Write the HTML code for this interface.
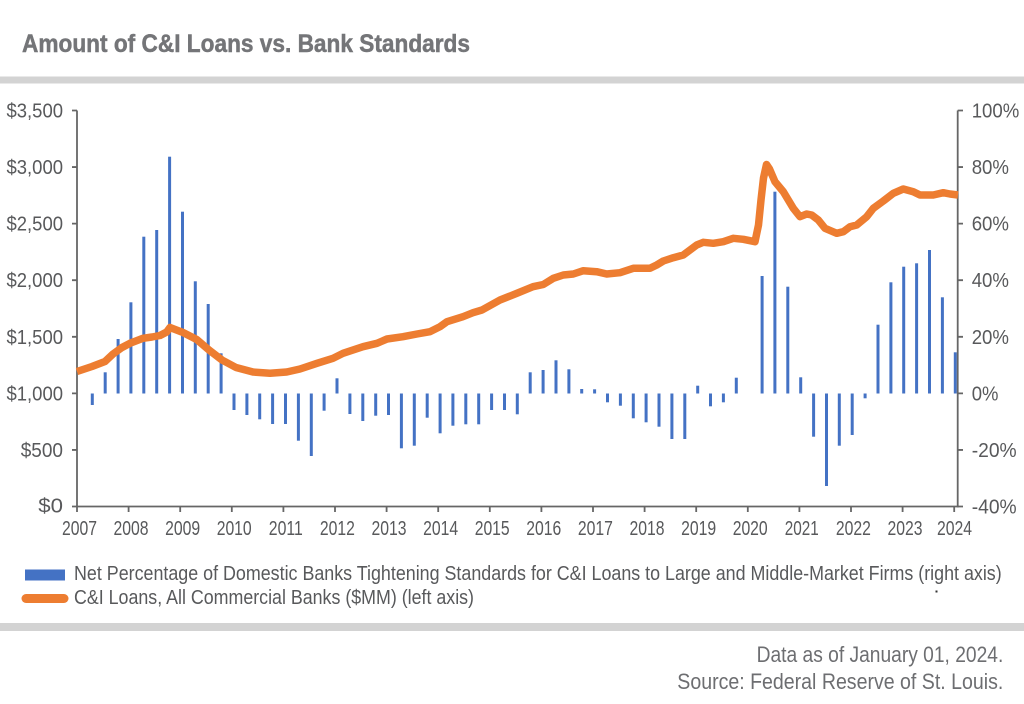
<!DOCTYPE html>
<html><head><meta charset="utf-8"><style>
html,body{margin:0;padding:0;background:#fff;}
svg{display:block;}
text{font-family:"Liberation Sans Narrow","Liberation Sans",sans-serif;}
</style></head><body>
<svg width="1024" height="704" viewBox="0 0 1024 704" xmlns="http://www.w3.org/2000/svg">
<rect x="0" y="0" width="1024" height="704" fill="#fff"/>
<text x="22" y="52" font-size="25" font-weight="bold" fill="#747578" stroke="#747578" stroke-width="0.5" textLength="448" lengthAdjust="spacingAndGlyphs">Amount of C&amp;I Loans vs. Bank Standards</text>
<rect x="0" y="76.5" width="1024" height="7" fill="#d3d3d3"/>
<rect x="0" y="623" width="1024" height="8" fill="#d3d3d3"/>

<!-- bars -->
<g fill="#4472c4">
<rect x="90.8" y="393.5" width="3" height="11.5"/>
<rect x="103.7" y="372.3" width="3" height="21.2"/>
<rect x="116.6" y="339" width="3" height="54.5"/>
<rect x="129.4" y="302.3" width="3" height="91.2"/>
<rect x="142.3" y="236.7" width="3" height="156.8"/>
<rect x="155.2" y="230" width="3" height="163.5"/>
<rect x="168.1" y="156.7" width="3" height="236.8"/>
<rect x="181" y="211.7" width="3" height="181.8"/>
<rect x="193.8" y="281.3" width="3" height="112.2"/>
<rect x="206.7" y="304" width="3" height="89.5"/>
<rect x="219.6" y="353.3" width="3" height="40.2"/>
<rect x="232.5" y="393.5" width="3" height="16.5"/>
<rect x="245.4" y="393.5" width="3" height="21.5"/>
<rect x="258.2" y="393.5" width="3" height="25.8"/>
<rect x="271.1" y="393.5" width="3" height="30.5"/>
<rect x="284" y="393.5" width="3" height="30.5"/>
<rect x="296.9" y="393.5" width="3" height="47.2"/>
<rect x="309.8" y="393.5" width="3" height="62.5"/>
<rect x="322.6" y="393.5" width="3" height="17.2"/>
<rect x="335.5" y="378.3" width="3" height="15.2"/>
<rect x="348.4" y="393.5" width="3" height="20.5"/>
<rect x="361.3" y="393.5" width="3" height="27.5"/>
<rect x="374.2" y="393.5" width="3" height="22.2"/>
<rect x="387" y="393.5" width="3" height="21.5"/>
<rect x="399.9" y="393.5" width="3" height="54.8"/>
<rect x="412.8" y="393.5" width="3" height="52.2"/>
<rect x="425.7" y="393.5" width="3" height="24.2"/>
<rect x="438.6" y="393.5" width="3" height="39.8"/>
<rect x="451.4" y="393.5" width="3" height="32.2"/>
<rect x="464.3" y="393.5" width="3" height="30.8"/>
<rect x="477.2" y="393.5" width="3" height="30.8"/>
<rect x="490.1" y="393.5" width="3" height="16.5"/>
<rect x="503" y="393.5" width="3" height="16.5"/>
<rect x="515.8" y="393.5" width="3" height="20.8"/>
<rect x="528.7" y="372.3" width="3" height="21.2"/>
<rect x="541.6" y="370" width="3" height="23.5"/>
<rect x="554.5" y="360.3" width="3" height="33.2"/>
<rect x="567.4" y="369.3" width="3" height="24.2"/>
<rect x="580.2" y="389" width="3" height="4.5"/>
<rect x="593.1" y="389.3" width="3" height="4.2"/>
<rect x="606" y="393.5" width="3" height="8.8"/>
<rect x="618.9" y="393.5" width="3" height="12.2"/>
<rect x="631.8" y="393.5" width="3" height="24.8"/>
<rect x="644.6" y="393.5" width="3" height="28.8"/>
<rect x="657.5" y="393.5" width="3" height="33.2"/>
<rect x="670.4" y="393.5" width="3" height="45.5"/>
<rect x="683.3" y="393.5" width="3" height="45.5"/>
<rect x="696.2" y="385.7" width="3" height="7.8"/>
<rect x="709" y="393.5" width="3" height="12.8"/>
<rect x="721.9" y="393.5" width="3" height="8.8"/>
<rect x="734.8" y="377.7" width="3" height="15.8"/>
<rect x="760.6" y="276" width="3" height="117.5"/>
<rect x="773.4" y="191.7" width="3" height="201.8"/>
<rect x="786.3" y="286.7" width="3" height="106.8"/>
<rect x="799.2" y="377.3" width="3" height="16.2"/>
<rect x="812.1" y="393.5" width="3" height="43.2"/>
<rect x="825" y="393.5" width="3" height="92.5"/>
<rect x="837.8" y="393.5" width="3" height="52.2"/>
<rect x="850.7" y="393.5" width="3" height="41.5"/>
<rect x="863.6" y="393.5" width="3" height="4.8"/>
<rect x="876.5" y="324.7" width="3" height="68.8"/>
<rect x="889.4" y="282.3" width="3" height="111.2"/>
<rect x="902.2" y="266.7" width="3" height="126.8"/>
<rect x="915.1" y="263.3" width="3" height="130.2"/>
<rect x="928" y="250" width="3" height="143.5"/>
<rect x="940.9" y="297.3" width="3" height="96.2"/>
<rect x="953.8" y="352.3" width="3" height="41.2"/>
</g>

<!-- axes -->
<g stroke="#666" stroke-width="1.8" fill="none">
<line x1="77" y1="110.5" x2="77" y2="507.4"/>
<line x1="957.7" y1="110.5" x2="957.7" y2="507.4"/>
<line x1="76.1" y1="506.5" x2="958.6" y2="506.5"/>
<path d="M72 110.5H77M72 167.07H77M72 223.64H77M72 280.21H77M72 336.79H77M72 393.36H77M72 449.93H77M72 506.5H77"/>
<path d="M957.7 110.5H963M957.7 167.07H963M957.7 223.64H963M957.7 280.21H963M957.7 336.79H963M957.7 393.36H963M957.7 449.93H963M957.7 506.5H963"/>
<path d="M77 506.5V512M128.6 506.5V512M180.2 506.5V512M231.8 506.5V512M283.4 506.5V512M335 506.5V512M386.6 506.5V512M438.2 506.5V512M489.8 506.5V512M541.4 506.5V512M593 506.5V512M644.6 506.5V512M696.2 506.5V512M747.8 506.5V512M799.4 506.5V512M851 506.5V512M902.6 506.5V512M954.2 506.5V512"/>
</g>

<!-- orange line -->
<polyline fill="none" stroke="#ed7d31" stroke-width="7.5" stroke-linejoin="round" stroke-linecap="butt" points="77,371.5 92,366.5 105,361.5 113,354 122,347.5 130,343.3 143,338.3 152,337 160,335.5 166.7,332 170,327.5 183,332.5 196.7,339.5 209,350 222,360 236,367.5 253,372 270,373.3 286.7,372 300,369 317,363.3 333,358.3 343,353.3 363,346.7 377,343.3 387,339 403,336.7 417,334 430,331.7 440,326.7 447,321.7 463,316.7 473,312.7 482,310 500,300 517,293.3 533,286.7 543.3,284.5 553.3,278.3 563.3,275 573.3,274 583.3,270.7 596.7,271.7 606.7,274 620,272.7 633.3,268.3 650,268.3 656.7,265 663.3,261 673.3,257.7 683.3,255 696.7,245 703.3,242.3 713.3,243.3 723.3,241.7 733.3,238.3 743.3,239.3 755,241.7 758.5,225 761,200 763.5,178 766.5,164.5 769.5,169 775,181.7 783.3,191.7 793.3,208.3 800,216.7 806.7,214 811.7,215 818.3,220 825,228.3 836.7,233.3 843.3,231.7 850,226.7 856.7,225 866.7,216.7 873.3,208.3 883.3,201 893.3,193.3 903.3,189 913.3,191.7 920,195 933.3,195 943.3,192.7 950,194 958,195"/>

<!-- left labels -->
<g font-size="20" fill="#58595b" text-anchor="end">
<text x="63" y="117.5" textLength="56.5" lengthAdjust="spacingAndGlyphs">$3,500</text>
<text x="63" y="174" textLength="56.5" lengthAdjust="spacingAndGlyphs">$3,000</text>
<text x="63" y="230.6" textLength="56.5" lengthAdjust="spacingAndGlyphs">$2,500</text>
<text x="63" y="287.2" textLength="56.5" lengthAdjust="spacingAndGlyphs">$2,000</text>
<text x="63" y="343.8" textLength="56.5" lengthAdjust="spacingAndGlyphs">$1,500</text>
<text x="63" y="400.3" textLength="56.5" lengthAdjust="spacingAndGlyphs">$1,000</text>
<text x="63" y="456.9" textLength="42.3" lengthAdjust="spacingAndGlyphs">$500</text>
<text x="63" y="512.5" textLength="24.7" lengthAdjust="spacingAndGlyphs">$0</text>
</g>
<!-- right labels -->
<g font-size="20" fill="#58595b">
<text x="971.7" y="117.5" textLength="47.6" lengthAdjust="spacingAndGlyphs">100%</text>
<text x="971.7" y="174" textLength="37.3" lengthAdjust="spacingAndGlyphs">80%</text>
<text x="971.7" y="230.6" textLength="37.3" lengthAdjust="spacingAndGlyphs">60%</text>
<text x="971.7" y="287.2" textLength="37.3" lengthAdjust="spacingAndGlyphs">40%</text>
<text x="971.7" y="343.8" textLength="37.3" lengthAdjust="spacingAndGlyphs">20%</text>
<text x="971.7" y="400.3" textLength="26.7" lengthAdjust="spacingAndGlyphs">0%</text>
<text x="971.7" y="456.9" textLength="45" lengthAdjust="spacingAndGlyphs">-20%</text>
<text x="971.7" y="513.5" textLength="45" lengthAdjust="spacingAndGlyphs">-40%</text>
</g>
<!-- x labels -->
<g font-size="20" fill="#58595b" text-anchor="middle">
<text x="79.5" y="535" textLength="35" lengthAdjust="spacingAndGlyphs">2007</text>
<text x="131" y="535" textLength="35" lengthAdjust="spacingAndGlyphs">2008</text>
<text x="182.6" y="535" textLength="35" lengthAdjust="spacingAndGlyphs">2009</text>
<text x="234.2" y="535" textLength="35" lengthAdjust="spacingAndGlyphs">2010</text>
<text x="285.8" y="535" textLength="34" lengthAdjust="spacingAndGlyphs">2011</text>
<text x="337.4" y="535" textLength="35" lengthAdjust="spacingAndGlyphs">2012</text>
<text x="389" y="535" textLength="35" lengthAdjust="spacingAndGlyphs">2013</text>
<text x="440.6" y="535" textLength="35" lengthAdjust="spacingAndGlyphs">2014</text>
<text x="492.2" y="535" textLength="35" lengthAdjust="spacingAndGlyphs">2015</text>
<text x="543.8" y="535" textLength="35" lengthAdjust="spacingAndGlyphs">2016</text>
<text x="595.4" y="535" textLength="35" lengthAdjust="spacingAndGlyphs">2017</text>
<text x="647" y="535" textLength="35" lengthAdjust="spacingAndGlyphs">2018</text>
<text x="698.6" y="535" textLength="35" lengthAdjust="spacingAndGlyphs">2019</text>
<text x="750.2" y="535" textLength="35" lengthAdjust="spacingAndGlyphs">2020</text>
<text x="801.8" y="535" textLength="34" lengthAdjust="spacingAndGlyphs">2021</text>
<text x="853.4" y="535" textLength="35" lengthAdjust="spacingAndGlyphs">2022</text>
<text x="905" y="535" textLength="35" lengthAdjust="spacingAndGlyphs">2023</text>
<text x="954.5" y="535" textLength="35" lengthAdjust="spacingAndGlyphs">2024</text>
</g>

<!-- legend -->
<rect x="25" y="569.5" width="40" height="11" fill="#4472c4"/>
<line x1="26" y1="598.5" x2="64" y2="598.5" stroke="#ed7d31" stroke-width="9" stroke-linecap="round"/>
<g font-size="20" fill="#58595b">
<text x="74" y="580" textLength="927.7" lengthAdjust="spacingAndGlyphs">Net Percentage of Domestic Banks Tightening Standards for C&amp;I Loans to Large and Middle-Market Firms (right axis)</text>
<text x="74" y="604" textLength="400" lengthAdjust="spacingAndGlyphs">C&amp;I Loans, All Commercial Banks ($MM) (left axis)</text>
</g>
<rect x="935.5" y="590.5" width="2" height="2" fill="#333"/>

<!-- footer -->
<g font-size="22" fill="#6d6e71" text-anchor="end">
<text x="1003.3" y="662" textLength="246.7" lengthAdjust="spacingAndGlyphs">Data as of January 01, 2024.</text>
<text x="1003.3" y="689" textLength="326" lengthAdjust="spacingAndGlyphs">Source: Federal Reserve of St. Louis.</text>
</g>
</svg>
</body></html>
